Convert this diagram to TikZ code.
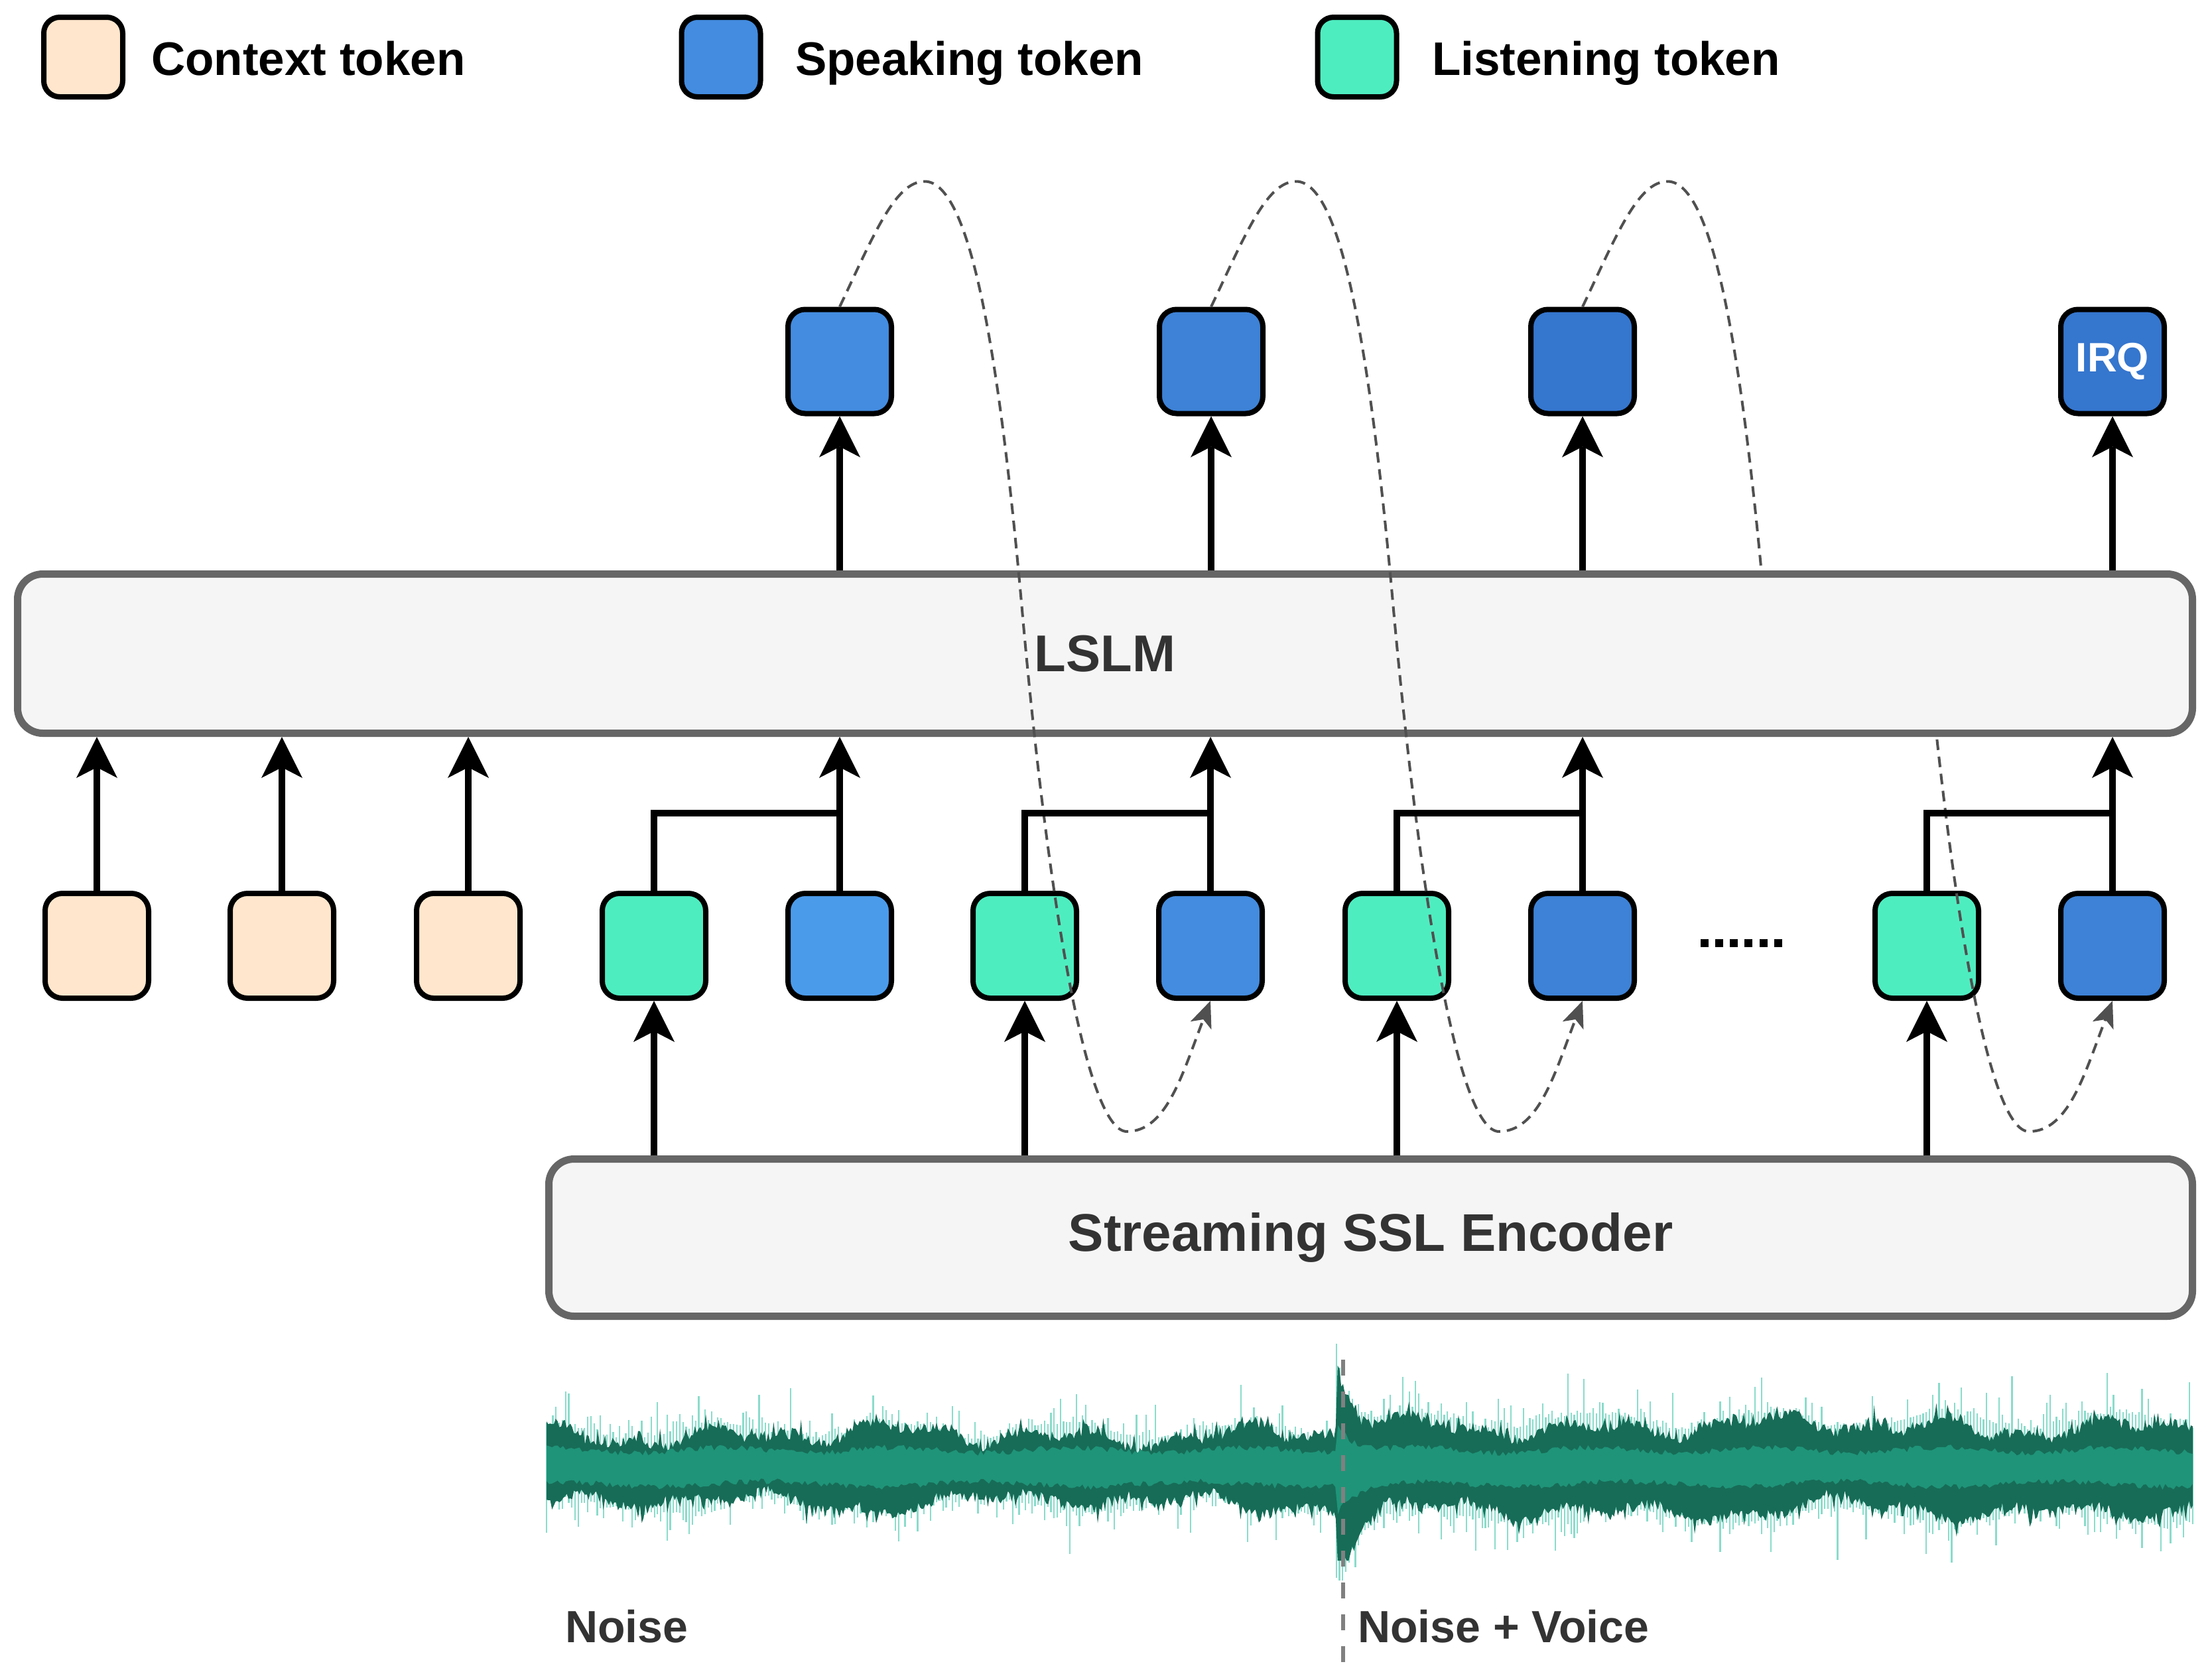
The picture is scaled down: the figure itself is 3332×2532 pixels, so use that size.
\documentclass[tikz,border=0pt]{standalone}
\usepackage{fontspec}
\setmainfont{Liberation Sans}
\usetikzlibrary{arrows.meta,calc}
\definecolor{ctxfill}{HTML}{FFE6CC}
\definecolor{lisfill}{HTML}{4EEDC0}
\definecolor{spk1}{HTML}{4B9BEB}
\definecolor{spk2}{HTML}{438CE0}
\definecolor{spk3}{HTML}{3D82D6}
\definecolor{spk4}{HTML}{3576CE}
\definecolor{lslmfill}{HTML}{F5F5F5}
\definecolor{lslmdraw}{HTML}{666666}
\definecolor{txt}{HTML}{333333}
\definecolor{curvec}{HTML}{505050}
\definecolor{wavelight}{HTML}{8ADCCB}
\definecolor{wavedark}{HTML}{176C57}
\definecolor{wavemid}{HTML}{1F9478}
\definecolor{vlinec}{HTML}{808080}
\begin{document}
\begin{tikzpicture}[x=1pt,y=-1pt,
  tok/.style={draw=black, line width=8pt, rounded corners=26pt, minimum width=156pt, minimum height=158pt, inner sep=0pt},
  legbox/.style={draw=black, line width=8pt, rounded corners=24pt, minimum width=119pt, minimum height=120pt, inner sep=0pt},
  bigbox/.style={draw=lslmdraw, fill=lslmfill, line width=11pt, rounded corners=38pt, inner sep=0pt, text=txt},
  arr/.style={line width=10pt, -{Stealth[length=62pt, width=62pt, inset=16pt, line width=0pt]}},
  brk/.style={line width=10pt},
  fb/.style={draw=curvec, line width=4pt, dash pattern=on 16pt off 10pt, -{Stealth[length=40pt, width=34pt, inset=10pt, line width=0pt]}},
  legtxt/.style={anchor=base west, inner sep=0pt, font=\bfseries\fontsize{71}{85}\selectfont},
  lbl/.style={anchor=base west, inner sep=0pt, text=txt, font=\bfseries\fontsize{68}{80}\selectfont},
]
\useasboundingbox (0,0) rectangle (3332,2532);

% ---------- legend ----------
\node[legbox, fill=ctxfill] (lg1) at (125.5,86) {};
\node[legtxt] (lt1) at (228,113) {Context token};
\node[legbox, fill=spk2] (lg2) at (1087,86) {};
\node[legtxt] (lt2) at (1199,113) {Speaking token};
\node[legbox, fill=lisfill] (lg3) at (2046,86) {};
\node[legtxt] (lt3) at (2159,113) {Listening token};

% ---------- waveform ----------
\pgfmathsetseed{12}
\begin{scope}[shift={(0,2211)}]
\draw[wavelight, line width=2.2pt] plot[ycomb, domain=824:3306, samples=520] (\x, {-min(52 + 95*rnd*rnd*rnd + 12*sin(1.37*\x+40) + 16*(\x>2030) + 110*exp(-min(max(\x-2018,0)/20,10))*(\x>2014), 185)});
\draw[wavelight, line width=2.2pt] plot[ycomb, domain=824:3306, samples=520] (\x, {min(56 + 95*rnd*rnd*rnd + 12*sin(1.11*\x+70) + 16*(\x>2030) + 105*exp(-min(max(\x-2018,0)/28,10))*(\x>2014), 172)});
\fill[wavedark] plot[domain=824:3306, samples=900] (\x, {-min(38 + 14*rnd + 34*rnd*rnd*rnd + 8*sin(3.1*\x) + 10*sin(1.37*\x+40) + 6*sin(0.53*\x+100) + 12*(\x>2030) + 100*exp(-min(max(\x-2018,0)/20,10))*(\x>2014), 152)}) -- plot[domain=3306:824, samples=900] (\x, {min(44 + 14*rnd + 34*rnd*rnd*rnd + 8*sin(2.7*\x+20) + 10*sin(1.11*\x+70) + 7*sin(0.61*\x+10) + 12*(\x>2030) + 95*exp(-min(max(\x-2018,0)/32,10))*(\x>2014), 142)}) -- cycle;
\fill[wavemid] plot[domain=824:3306, samples=600] (\x, {-(20 + 9*rnd + 4*sin(1.37*\x+40) + 45*exp(-min(max(\x-2018,0)/20,10))*(\x>2014))}) -- plot[domain=3306:824, samples=600] (\x, {(22 + 9*rnd + 4*sin(1.11*\x+70) + 40*exp(-min(max(\x-2018,0)/30,10))*(\x>2014))}) -- cycle;
\end{scope}
\coordinate (onsetTop) at (2025,2050);
\coordinate (onsetBot) at (2025,2507);
\draw[vlinec, line width=6pt, dash pattern=on 24pt off 24pt] (onsetTop) -- (onsetBot);
\node[lbl] (noise) at (852,2476) {Noise};
\node[lbl] (noisevoice) at (2047,2476) {Noise + Voice};

% ---------- middle token row ----------
\node[tok, fill=ctxfill] (ctx1) at (146,1426) {};
\node[tok, fill=ctxfill] (ctx2) at (425,1426) {};
\node[tok, fill=ctxfill] (ctx3) at (706,1426) {};
\node[tok, fill=lisfill] (lis1) at (986,1426) {};
\node[tok, fill=spk1] (sp4) at (1266,1426) {};
\node[tok, fill=lisfill] (lis2) at (1545,1426) {};
\node[tok, fill=spk2] (sp6) at (1825,1426) {};
\node[tok, fill=lisfill] (lis3) at (2106,1426) {};
\node[tok, fill=spk3] (sp8) at (2386,1426) {};
\node[tok, fill=lisfill] (lis4) at (2905,1426) {};
\node[tok, fill=spk3] (sp10) at (3185,1426) {};
\foreach \k in {0,...,5} \fill (2563.5+22.3*\k,1416) rectangle ++(12,12);

% ---------- top output tokens ----------
\node[tok, fill=spk2, minimum height=157pt] (top1) at (1266,545) {};
\node[tok, fill=spk3, minimum height=157pt] (top2) at (1826,545) {};
\node[tok, fill=spk4, minimum height=157pt] (top3) at (2386,545) {};
\node[tok, fill=spk4, minimum height=157pt, text=white, font=\bfseries\fontsize{62}{70}\selectfont] (irq) at (3185,545) {IRQ};

% ---------- hidden feedback curve (passes behind LSLM) ----------
\draw[fb] (top3.north) .. controls ($(top3.north)+(50,-105)$) and ($(top3.north)+(83,-189)$) .. ($(top3.north)+(128,-189)$) .. controls ($(top3.north)+(198,-189)$) and ($(top3.north)+(241,77)$) .. ($(top3.north)+(275,457)$) -- ($(sp10.south)+(-284,-590)$) .. controls ($(sp10.south)+(-244,-140)$) and ($(sp10.south)+(-186,197)$) .. ($(sp10.south)+(-126,197)$) .. controls ($(sp10.south)+(-66,197)$) and ($(sp10.south)+(-42,109)$) .. (sp10.south);

% ---------- big boxes ----------
\node[bigbox, minimum width=3279pt, minimum height=240pt, font=\bfseries\fontsize{78}{90}\selectfont] (lslm) at (1666,985.5) {LSLM};
\node[bigbox, minimum width=2478pt, minimum height=237pt, font=\bfseries\fontsize{80}{92}\selectfont] (ssl) at (2066.5,1866) {Streaming SSL Encoder};

% ---------- feedback curves over LSLM ----------
\foreach \s/\e in {top1/sp6, top2/sp8} {
  \draw[fb] (\s.north) .. controls ($(\s.north)+(50,-105)$) and ($(\s.north)+(83,-189)$) .. ($(\s.north)+(128,-189)$) .. controls ($(\s.north)+(198,-189)$) and ($(\s.north)+(241,77)$) .. ($(\s.north)+(275,457)$) .. controls ($(\e.south)+(-244,-140)$) and ($(\e.south)+(-186,197)$) .. ($(\e.south)+(-126,197)$) .. controls ($(\e.south)+(-66,197)$) and ($(\e.south)+(-42,109)$) .. (\e.south);
}

% ---------- arrows ----------
\foreach \n in {ctx1,ctx2,ctx3,sp4,sp6,sp8,sp10}
  \draw[arr] (\n.north) -- (\n.north |- lslm.south);
\foreach \n in {lis1,lis2,lis3,lis4}
  \draw[arr] (\n.south |- ssl.north) -- (\n.south);
\foreach \n in {top1,top2,top3,irq}
  \draw[arr] (\n.south |- lslm.north) -- (\n.south);
\coordinate (brkline) at (0,1226);
\draw[brk] (lis1.north) |- ($(sp4.north |- brkline)+(5,0)$);
\draw[brk] (lis2.north) |- ($(sp6.north |- brkline)+(5,0)$);
\draw[brk] (lis3.north) |- ($(sp8.north |- brkline)+(5,0)$);
\draw[brk] (lis4.north) |- ($(sp10.north |- brkline)+(5,0)$);
\end{tikzpicture}
\end{document}
